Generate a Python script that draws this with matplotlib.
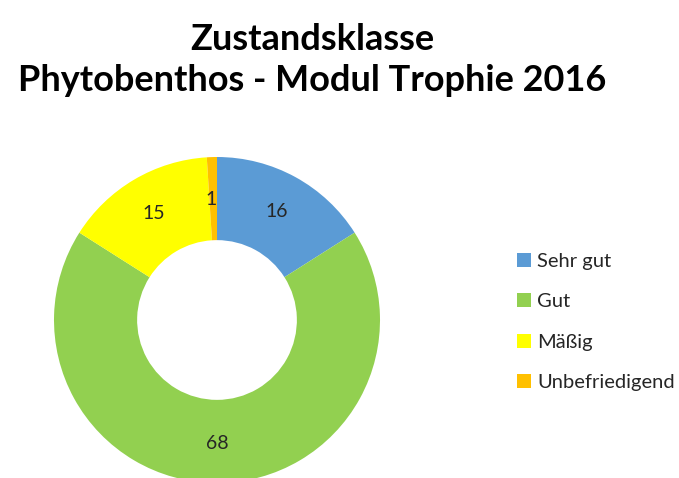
import matplotlib.pyplot as plt
from matplotlib.patches import Patch

# Daten
kategorien = ['Sehr gut', 'Gut', 'Mäßig', 'Unbefriedigend']
werte = [16, 68, 15, 1]
farben = ['#5B9BD5', '#92D050', '#FFFF00', '#FFC000']
titel = 'Zustandsklasse\nPhytobenthos - Modul Trophie 2016'

plt.rcParams['font.family'] = ['Lato', 'DejaVu Sans']

fig = plt.figure(figsize=(6.79, 4.78), dpi=100)

# Ring-Diagramm
ax = fig.add_axes([54 / 679, -5 / 478, 326 / 679, 326 / 478])
wedges, texts = ax.pie(werte, colors=farben, startangle=90, counterclock=False,
                       radius=1.0, wedgeprops=dict(width=0.51, linewidth=0),
                       labels=[str(w) for w in werte], labeldistance=0.76,
                       textprops=dict(fontsize=14, color='#262626'))
for t in texts:
    t.set_horizontalalignment('center')
    t.set_verticalalignment('center')
texts[3].set_position((texts[3].get_position()[0] - 0.01, texts[3].get_position()[1] - 0.02))
ax.set_xlim(-1, 1)
ax.set_ylim(-1, 1)
ax.set_aspect('equal')
ax.axis('off')

# Titel
fig.text(312 / 679, 1 - 60 / 478, titel, ha='center', va='center',
         fontsize=26, fontweight='bold', linespacing=1.3, color='black')

# Legende
handles = [Patch(facecolor=c, edgecolor='none') for c in farben]
fig.legend(handles, kategorien, loc='upper left', bbox_to_anchor=(499 / 679, 1 - 235 / 478),
           frameon=False, fontsize=14.5, handlelength=0.7, handleheight=0.7,
           handletextpad=0.3, labelspacing=1.15, labelcolor='#262626')

fig.savefig('out.png', dpi=100)
